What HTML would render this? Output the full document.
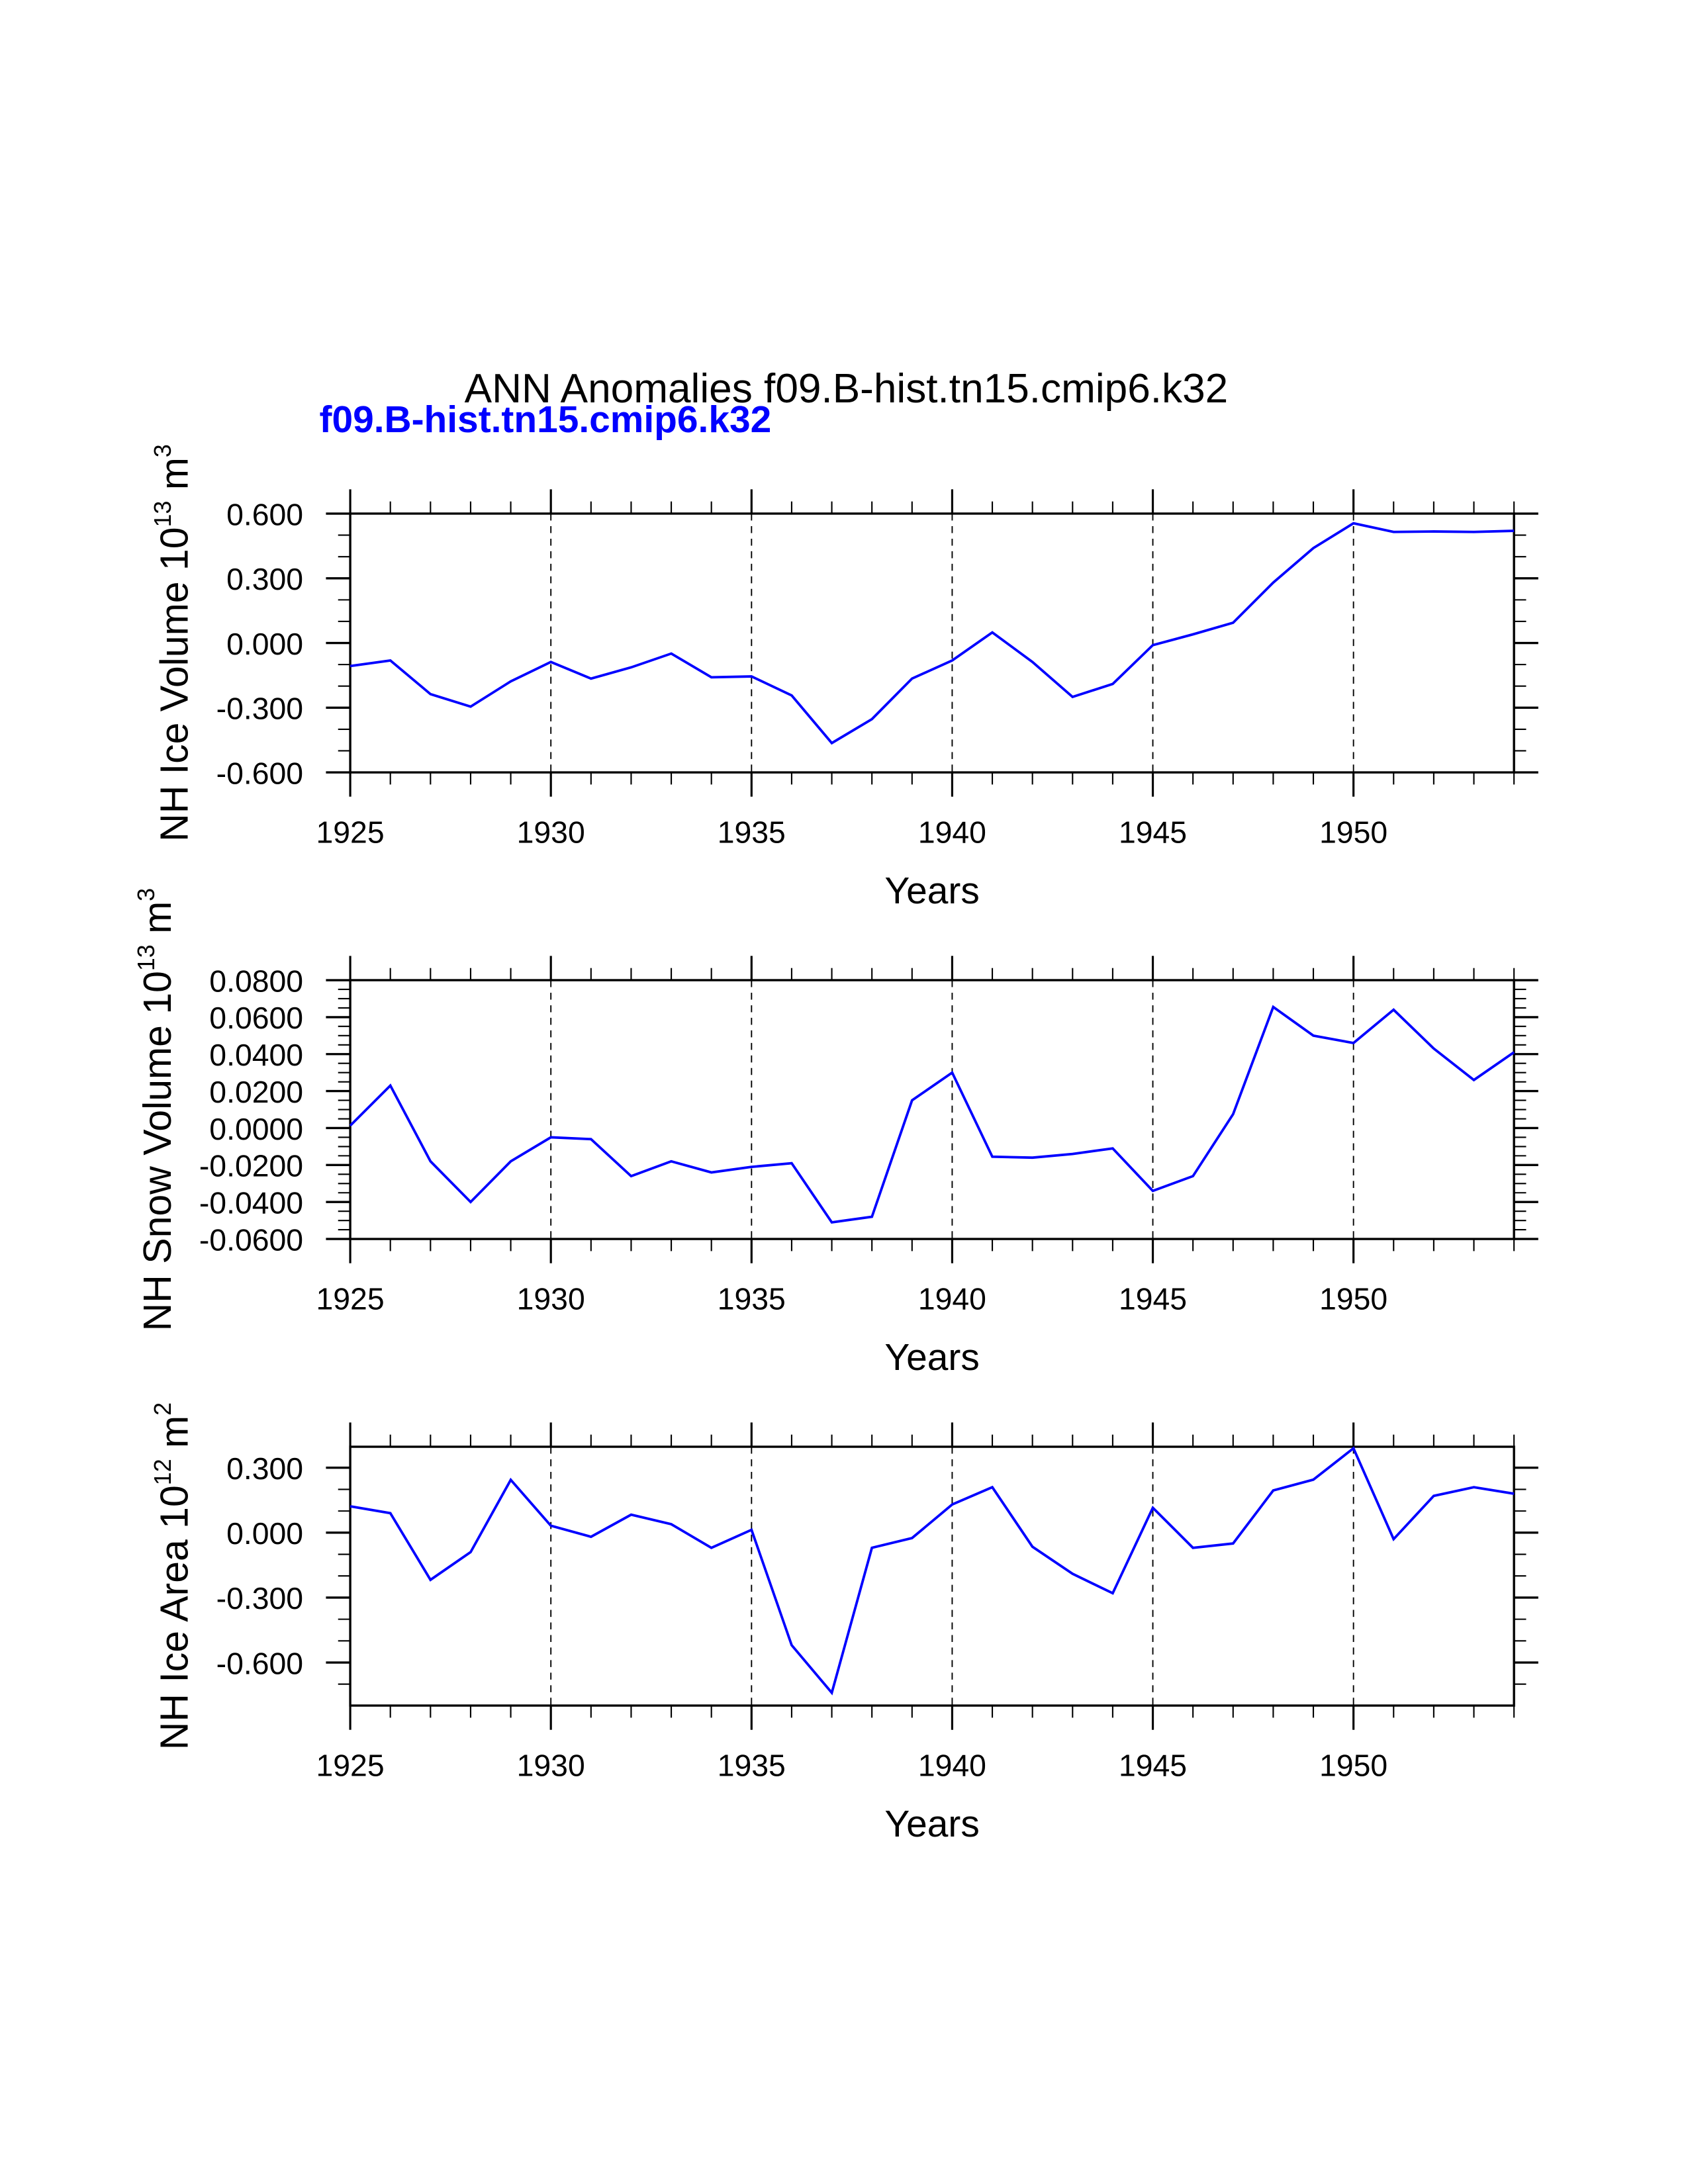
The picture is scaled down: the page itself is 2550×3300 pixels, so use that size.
<!DOCTYPE html>
<html><head><meta charset="utf-8"><style>
html,body{margin:0;padding:0;background:#fff;}
svg{display:block;}
text{font-family:"Liberation Sans",Arial,sans-serif;}
</style></head><body>
<svg id="chart" xmlns="http://www.w3.org/2000/svg" width="2550" height="3300" viewBox="0 0 1210.25 1566.2">
<text x="333" y="288.6" font-size="29.5" fill="#000">ANN Anomalies f09.B-hist.tn15.cmip6.k32</text>
<text x="229" y="310" font-size="27" font-weight="bold" fill="#0000ff">f09.B-hist.tn15.cmip6.k32</text>
<g id="panels"></g>
</svg>
<script>
const years = [1925,1926,1927,1928,1929,1930,1931,1932,1933,1934,1935,1936,1937,1938,1939,1940,1941,1942,1943,1944,1945,1946,1947,1948,1949,1950,1951,1952,1953,1954];
const iceVolume = [-0.107,-0.081,-0.237,-0.295,-0.178,-0.088,-0.165,-0.113,-0.049,-0.159,-0.155,-0.243,-0.464,-0.353,-0.165,-0.081,0.049,-0.088,-0.25,-0.19,-0.01,0.04,0.094,0.28,0.44,0.555,0.515,0.517,0.515,0.52];
const snowVolume = [0.0013,0.023,-0.018,-0.040,-0.018,-0.005,-0.006,-0.026,-0.018,-0.024,-0.021,-0.019,-0.051,-0.048,0.015,0.030,-0.0155,-0.016,-0.014,-0.011,-0.034,-0.026,0.0075,0.0655,0.050,0.046,0.064,0.043,0.026,0.041];
const iceArea = [0.122,0.09,-0.218,-0.09,0.244,0.032,-0.019,0.083,0.039,-0.07,0.013,-0.52,-0.74,-0.07,-0.025,0.13,0.21,-0.065,-0.19,-0.28,0.115,-0.07,-0.05,0.195,0.245,0.39,-0.03,0.17,0.21,0.18];
const xTickYears = [1925,1930,1935,1940,1945,1950];
const iceVolTicks = [-0.6,-0.3,0,0.3,0.6];
const iceVolLabels = ["-0.600","-0.300","0.000","0.300","0.600"];
const snowTicks = [-0.06,-0.04,-0.02,0,0.02,0.04,0.06,0.08];
const snowLabels = ["-0.0600","-0.0400","-0.0200","0.0000","0.0200","0.0400","0.0600","0.0800"];
const areaTicks = [-0.6,-0.3,0,0.3];
const areaLabels = ["-0.600","-0.300","0.000","0.300"];

const NS="http://www.w3.org/2000/svg";
const X0=251.1, X1=1085.5, H=185.6;
function x(yr){return X0+(yr-1925)/(1954-1925)*(X1-X0);}
function mk(tag,attrs,parent){const e=document.createElementNS(NS,tag);for(const k in attrs)e.setAttribute(k,attrs[k]);parent.appendChild(e);return e;}

const panels=[
 {key:"ice-volume",top:368.3,min:-0.6,max:0.6,data:iceVolume,ticks:iceVolTicks,labels:iceVolLabels,minor:0.1,title:["NH Ice Volume 10","13"," m","3"],tx:134.5},
 {key:"snow-volume",top:702.9,min:-0.06,max:0.08,data:snowVolume,ticks:snowTicks,labels:snowLabels,minor:0.005,title:["NH Snow Volume 10","13"," m","3"],tx:122.5},
 {key:"ice-area",top:1037.5,min:-0.799,max:0.397,data:iceArea,ticks:areaTicks,labels:areaLabels,minor:0.1,title:["NH Ice Area 10","12"," m","2"],tx:134.5}
];
const root=document.getElementById('panels');
panels.forEach(p=>{
 const g=mk('g',{},root);
 
 
 const B=p.top+H;
 const y=v=>B-(v-p.min)/(p.max-p.min)*H;
 xTickYears.slice(1).forEach(yr=>{
  const l=mk('line',{x1:x(yr),x2:x(yr),y1:p.top,y2:B,stroke:'#000','stroke-width':0.9,'stroke-dasharray':'5 4'},g);
  
  
 });
 for(let yr=1925;yr<=1954;yr++){
  const major=(yr%5===0), len=major?17.4:8.7, sw=major?1.5:1.0;
  const t1=mk('line',{x1:x(yr),x2:x(yr),y1:p.top,y2:p.top-len,stroke:'#000','stroke-width':sw},g);
  
  
  const t2=mk('line',{x1:x(yr),x2:x(yr),y1:B,y2:B+len,stroke:'#000','stroke-width':sw},g);
  
  
 }
 xTickYears.forEach(yr=>{
  const t=mk('text',{x:x(yr),y:B+50.4,'font-size':22,'text-anchor':'middle'},g);
  t.textContent=yr;
  
  
 });
 const start=Math.ceil(p.min/p.minor-1e-6)*p.minor;
 for(let i=0;i<400;i++){
  const v=start+i*p.minor; if(v>p.max+1e-9)break;
  const yy=y(v);
  const a=mk('line',{x1:X0,x2:X0-8.7,y1:yy,y2:yy,stroke:'#000','stroke-width':1.0},g);
  
  
  const b=mk('line',{x1:X1,x2:X1+8.7,y1:yy,y2:yy,stroke:'#000','stroke-width':1.0},g);
  
  
 }
 p.ticks.forEach((v,i)=>{
  const yy=y(v);
  const a=mk('line',{x1:X0,x2:X0-17.4,y1:yy,y2:yy,stroke:'#000','stroke-width':1.6},g);
  
  
  const b=mk('line',{x1:X1,x2:X1+17.4,y1:yy,y2:yy,stroke:'#000','stroke-width':1.6},g);
  
  
  const t=mk('text',{x:217.4,y:yy+8.2,'font-size':22,'text-anchor':'end'},g);
  t.textContent=p.labels[i];
  
  
 });
 const f=mk('rect',{x:X0,y:p.top,width:X1-X0,height:H,fill:'none',stroke:'#000','stroke-width':1.6},g);
 
 
 const pts=years.map((yr,i)=>x(yr).toFixed(2)+','+y(p.data[i]).toFixed(2)).join(' ');
 const pl=mk('polyline',{points:pts,fill:'none',stroke:'#0000ff','stroke-width':1.8,'stroke-linejoin':'miter'},g);
 
 
 const xt=mk('text',{x:(X0+X1)/2,y:B+94,'font-size':27,'text-anchor':'middle'},g);
 xt.textContent='Years';
 
 
 const cy=p.top+H/2;
 const yt=mk('text',{x:0,y:0,'font-size':28,'text-anchor':'middle',transform:`translate(${p.tx},${cy}) rotate(-90)`},g);
 
 
 const s1=mk('tspan',{},yt); s1.textContent=p.title[0];
 const s2=mk('tspan',{'font-size':17,dy:-12},yt); s2.textContent=p.title[1];
 const s3=mk('tspan',{dy:12},yt); s3.textContent=p.title[2];
 const s4=mk('tspan',{'font-size':17,dy:-12},yt); s4.textContent=p.title[3];
});
</script>
</body></html>
